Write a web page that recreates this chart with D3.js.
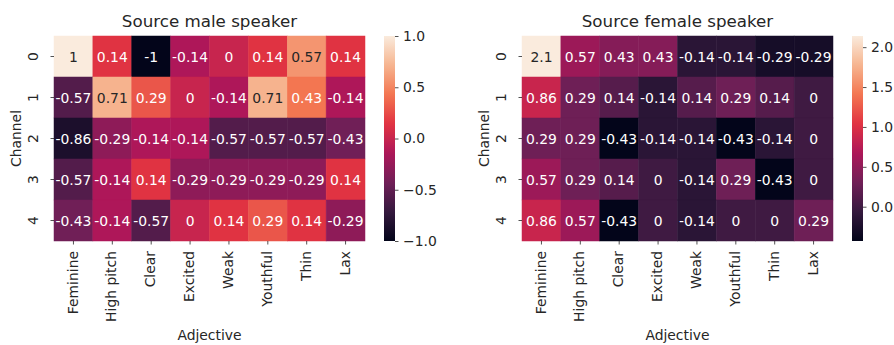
<!DOCTYPE html>
<html>
<head>
<meta charset="utf-8">
<script src="https://cdn.jsdelivr.net/npm/d3@7"></script>
<style>
  body { margin: 0; background: #fff; }
</style>
</head>
<body>
<div id="chart"></div>
<script>
// figure size
const width = 894;
const height = 345;

// data
const adjectives = ["Feminine", "High pitch", "Clear", "Excited", "Weak", "Youthful", "Thin", "Lax"];
const channels = [0, 1, 2, 3, 4];

const maleValues = [
  [1, 0.14, -1, -0.14, 0, 0.14, 0.57, 0.14],
  [-0.57, 0.71, 0.29, 0, -0.14, 0.71, 0.43, -0.14],
  [-0.86, -0.29, -0.14, -0.14, -0.57, -0.57, -0.57, -0.43],
  [-0.57, -0.14, 0.14, -0.29, -0.29, -0.29, -0.29, 0.14],
  [-0.43, -0.14, -0.57, 0, 0.14, 0.29, 0.14, -0.29]
];

const femaleValues = [
  [2.14, 0.57, 0.43, 0.43, -0.14, -0.14, -0.29, -0.29],
  [0.86, 0.29, 0.14, -0.14, 0.14, 0.29, 0.14, 0],
  [0.29, 0.29, -0.43, -0.14, -0.14, -0.43, -0.14, 0],
  [0.57, 0.29, 0.14, 0, -0.14, 0.29, -0.43, 0],
  [0.86, 0.57, -0.43, 0, -0.14, 0, 0, 0.29]
];

const maleTicks = [-1, -0.5, 0, 0.5, 1];
const femaleTicks = [0, 0.5, 1, 1.5, 2];

// seaborn "rocket" colormap, approximated by a few samples
const rocketStops = ["#03051a", "#35193e", "#701f57", "#ad1759", "#e13342", "#f37651", "#f6b48f", "#faebdd"];
const rocket = d3.piecewise(d3.interpolateRgb, rocketStops);

const textColor = "#262626";
const fontFamily = "'DejaVu Sans', sans-serif";
const fontSize = 13.9;

// annotations use a plain hyphen, colorbar ticks use the unicode minus
const annotFormat = d3.formatLocale({
  decimal: ".", thousands: ",", grouping: [3], currency: ["$", ""], minus: "-"
}).format(".2~g");
const tickFormat = d3.format(".1f");

const svg = d3.select("#chart")
  .append("svg")
  .attr("width", width)
  .attr("height", height)
  .style("font-family", fontFamily);

// relative luminance, same rule seaborn uses to pick the text colour
function luminance(c) {
  const rgb = d3.rgb(c);
  const lin = v => {
    v = v / 255;
    return v <= 0.03928 ? v / 12.92 : Math.pow((v + 0.055) / 1.055, 2.4);
  };
  return 0.2126 * lin(rgb.r) + 0.7152 * lin(rgb.g) + 0.0722 * lin(rgb.b);
}

function drawPanel(values, ticks, title, box, id) {
  const x = d3.scaleBand()
    .domain(adjectives)
    .range([box.left, box.right]);

  const y = d3.scaleBand()
    .domain(channels)
    .range([box.top, box.bottom]);

  const cells = values.flatMap((row, i) =>
    row.map((v, j) => ({ channel: channels[i], adjective: adjectives[j], value: v })));

  const extent = d3.extent(cells, d => d.value);
  const color = d3.scaleSequential(rocket).domain(extent);

  // cells
  svg.append("g")
    .selectAll("rect")
    .data(cells)
    .enter()
    .append("rect")
    .attr("x", d => x(d.adjective))
    .attr("y", d => y(d.channel))
    .attr("width", x.bandwidth())
    .attr("height", y.bandwidth())
    .attr("fill", d => color(d.value))
    .attr("stroke", d => color(d.value))
    .attr("stroke-width", 0.5);

  // annotations
  svg.append("g")
    .selectAll("text")
    .data(cells)
    .enter()
    .append("text")
    .attr("x", d => x(d.adjective) + x.bandwidth() / 2)
    .attr("y", d => y(d.channel) + y.bandwidth() / 2)
    .attr("dy", "0.36em")
    .attr("text-anchor", "middle")
    .attr("font-size", fontSize)
    .attr("fill", d => luminance(color(d.value)) > 0.408 ? textColor : "#ffffff")
    .text(d => annotFormat(d.value));

  // y axis (channels)
  const yAxis = svg.append("g")
    .attr("transform", `translate(${box.left},0)`)
    .call(d3.axisLeft(y).tickSize(3.5))
    .attr("color", textColor)
    .attr("font-family", fontFamily)
    .attr("font-size", fontSize);
  yAxis.select(".domain").remove();
  yAxis.selectAll("line").attr("stroke-width", 0.8);
  yAxis.selectAll("text")
    .attr("x", 0)
    .attr("dy", "0.35em")
    .attr("text-anchor", "middle")
    .attr("transform", "translate(-21,0) rotate(-90)");

  // x axis (adjectives)
  const xAxis = svg.append("g")
    .attr("transform", `translate(0,${box.bottom})`)
    .call(d3.axisBottom(x).tickSize(3.5))
    .attr("color", textColor)
    .attr("font-family", fontFamily)
    .attr("font-size", fontSize);
  xAxis.select(".domain").remove();
  xAxis.selectAll("line").attr("stroke-width", 0.8);
  xAxis.selectAll("text")
    .attr("y", 0)
    .attr("dy", "0.3em")
    .attr("text-anchor", "end")
    .attr("transform", "translate(0,10) rotate(-90)");

  // titles
  const midX = (box.left + box.right) / 2;
  svg.append("text")
    .attr("x", midX)
    .attr("y", 27)
    .attr("text-anchor", "middle")
    .attr("font-size", 16.7)
    .attr("fill", textColor)
    .text(title);

  svg.append("text")
    .attr("x", midX)
    .attr("y", 340)
    .attr("text-anchor", "middle")
    .attr("font-size", fontSize)
    .attr("fill", textColor)
    .text("Adjective");

  svg.append("text")
    .attr("transform", `translate(${box.left - 38},${(box.top + box.bottom) / 2}) rotate(-90)`)
    .attr("dy", "0.35em")
    .attr("text-anchor", "middle")
    .attr("font-size", fontSize)
    .attr("fill", textColor)
    .text("Channel");

  // colorbar
  const grad = svg.append("defs")
    .append("linearGradient")
    .attr("id", id)
    .attr("x1", 0).attr("y1", 1)
    .attr("x2", 0).attr("y2", 0);
  grad.selectAll("stop")
    .data(d3.range(0, 1.0001, 0.02))
    .enter()
    .append("stop")
    .attr("offset", d => d)
    .attr("stop-color", d => rocket(d));

  svg.append("rect")
    .attr("x", box.cbLeft)
    .attr("y", box.top)
    .attr("width", box.cbWidth)
    .attr("height", box.bottom - box.top)
    .attr("fill", `url(#${id})`);

  const cScale = d3.scaleLinear()
    .domain(extent)
    .range([box.bottom, box.top]);

  const cAxis = svg.append("g")
    .attr("transform", `translate(${box.cbLeft + box.cbWidth},0)`)
    .call(d3.axisRight(cScale)
      .tickValues(ticks)
      .tickSize(3.5)
      .tickPadding(4.5)
      .tickFormat(tickFormat))
    .attr("color", textColor)
    .attr("font-family", fontFamily)
    .attr("font-size", fontSize);
  cAxis.select(".domain").remove();
  cAxis.selectAll("line").attr("stroke-width", 0.8);
}

drawPanel(maleValues, maleTicks, "Source male speaker",
  { left: 54, right: 365, top: 36, bottom: 241, cbLeft: 384, cbWidth: 11 }, "grad-male");
drawPanel(femaleValues, femaleTicks, "Source female speaker",
  { left: 522, right: 833, top: 36, bottom: 241, cbLeft: 852, cbWidth: 11 }, "grad-female");
</script>
</body>
</html>
